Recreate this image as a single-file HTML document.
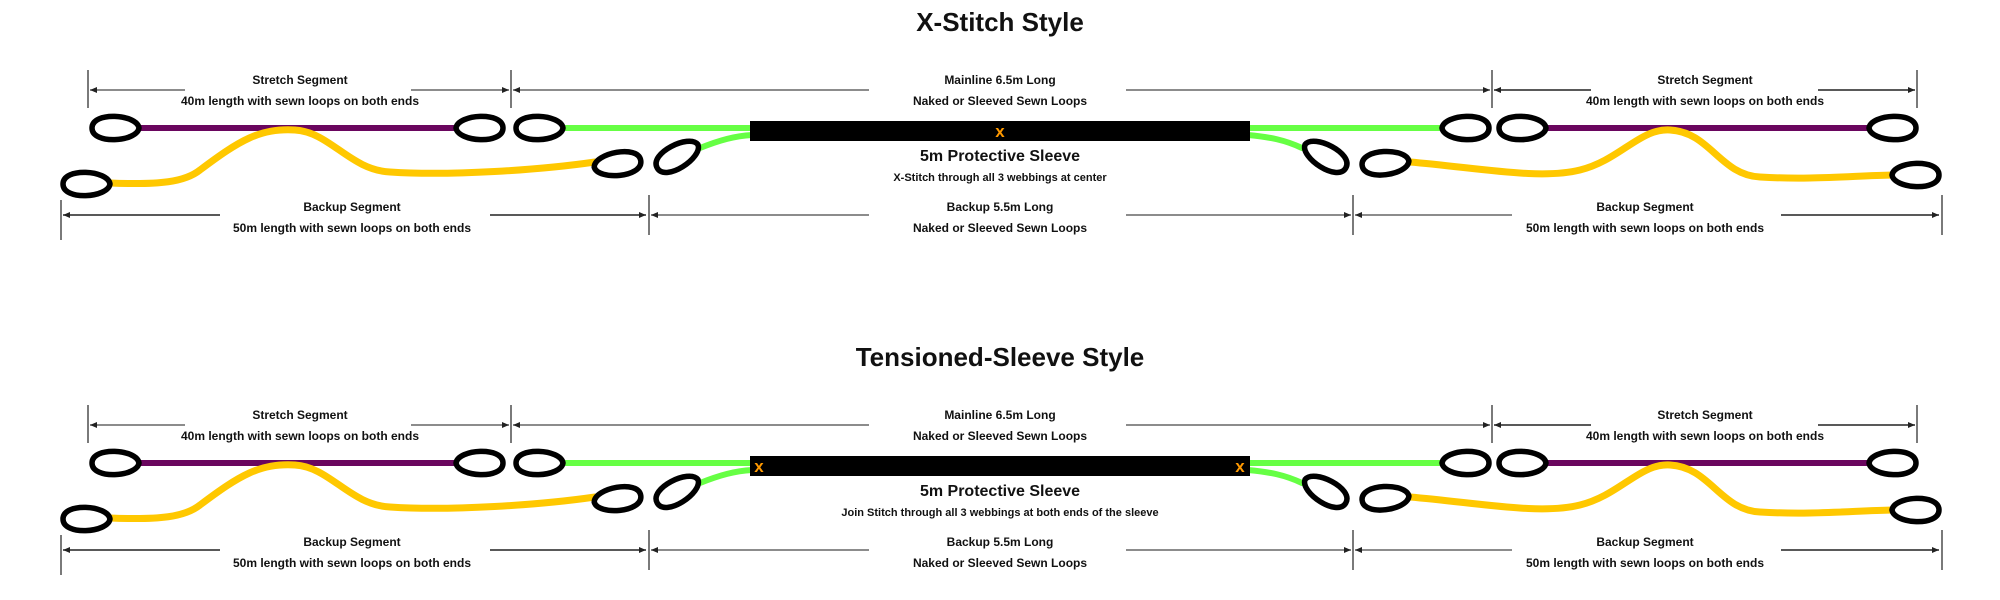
<!DOCTYPE html>
<html><head><meta charset="utf-8"><style>
html,body{margin:0;padding:0;background:#fff;}
svg{display:block;}
text{font-family:"Liberation Sans",sans-serif;font-weight:bold;}
</style></head><body>
<svg width="2000" height="600" viewBox="0 0 2000 600" xmlns="http://www.w3.org/2000/svg">
<defs>
<marker id="ah" markerWidth="8" markerHeight="8" refX="7" refY="4" orient="auto-start-reverse" markerUnits="userSpaceOnUse">
<path d="M0,1 L7,4 L0,7 Z" fill="#222"/></marker>
<path id="lp" d="M23,0 C21,-14 -24,-17 -24,0 C-24,17 21,14 23,0 Z" fill="#fff" stroke="#000" stroke-width="5.5" stroke-linejoin="round"/>
<g id="base">
 <g stroke="#333" stroke-width="1.3">
  <line x1="88" y1="70" x2="88" y2="108"/><line x1="511" y1="70" x2="511" y2="108"/>
  <line x1="1492" y1="70" x2="1492" y2="108"/><line x1="1917" y1="70" x2="1917" y2="108"/>
  <line x1="61" y1="200" x2="61" y2="240"/><line x1="649" y1="195" x2="649" y2="235"/>
  <line x1="1353" y1="195" x2="1353" y2="235"/><line x1="1942" y1="195" x2="1942" y2="235"/>
 </g>
 <g stroke="#666" stroke-width="1.6">
  <line x1="90" y1="90" x2="185" y2="90" marker-start="url(#ah)"/>
  <line x1="411" y1="90" x2="509" y2="90" marker-end="url(#ah)"/>
  <line x1="513" y1="90" x2="869" y2="90" marker-start="url(#ah)"/>
  <line x1="1126" y1="90" x2="1490" y2="90" marker-end="url(#ah)"/>
  <line x1="651" y1="215" x2="869" y2="215" marker-start="url(#ah)"/>
  <line x1="1126" y1="215" x2="1351" y2="215" marker-end="url(#ah)"/>
  <line x1="1355" y1="215" x2="1512" y2="215" marker-start="url(#ah)"/>
 </g>
 <g stroke="#222" stroke-width="1.6">
  <line x1="1494" y1="90" x2="1591" y2="90" marker-start="url(#ah)"/>
  <line x1="1818" y1="90" x2="1915" y2="90" marker-end="url(#ah)"/>
  <line x1="63" y1="215" x2="220" y2="215" marker-start="url(#ah)"/>
  <line x1="490" y1="215" x2="646" y2="215" marker-end="url(#ah)"/>
  <line x1="1781" y1="215" x2="1939" y2="215" marker-end="url(#ah)"/>
 </g>
 <g fill="none" stroke-linecap="round">
  <line x1="140" y1="128" x2="456" y2="128" stroke="#6a065e" stroke-width="6"/>
  <line x1="1546" y1="128" x2="1868" y2="128" stroke="#6a065e" stroke-width="6"/>
  <line x1="565" y1="128" x2="752" y2="128" stroke="#66ff44" stroke-width="6"/>
  <line x1="1248" y1="128" x2="1443" y2="128" stroke="#66ff44" stroke-width="6"/>
  <path d="M752,135 C735,136 720,140 700,148" stroke="#66ff44" stroke-width="6"/>
  <path d="M1248,135 C1270,137 1285,140 1302,148" stroke="#66ff44" stroke-width="6"/>
  <path d="M110,183 C160,185 185,182 200,170 C240,140 260,128 295,130 C330,132 350,170 390,172 C450,176 540,170 595,162" stroke="#ffc800" stroke-width="7"/>
  <path d="M1410,162 C1480,168 1540,180 1580,170 C1620,160 1640,128 1670,130 C1710,132 1720,175 1760,177 C1810,180 1850,176 1892,175" stroke="#ffc800" stroke-width="7"/>
 </g>
 <rect x="750" y="121" width="500" height="20" fill="#000"/>
 <use href="#lp" transform="translate(116,128)"/>
 <use href="#lp" transform="translate(479,128) scale(-1,1)"/>
 <use href="#lp" transform="translate(540,128)"/>
 <use href="#lp" transform="translate(678,156) rotate(-30)"/>
 <use href="#lp" transform="translate(617,164) scale(-1,1) rotate(8)"/>
 <use href="#lp" transform="translate(87,184)"/>
 <use href="#lp" transform="translate(1465,128) scale(-1,1)"/>
 <use href="#lp" transform="translate(1523,128)"/>
 <use href="#lp" transform="translate(1892,128) scale(-1,1)"/>
 <use href="#lp" transform="translate(1325,156) scale(-1,1) rotate(-30)"/>
 <use href="#lp" transform="translate(1386,163) rotate(-5)"/>
 <use href="#lp" transform="translate(1915,175) scale(-1,1)"/>
</g>
</defs>

<use href="#base"/>
<use href="#base" y="335"/>

<g text-anchor="middle" fill="#111">
 <text x="1000" y="31" font-size="26">X-Stitch Style</text>
 <text x="1000" y="366" font-size="26">Tensioned-Sleeve Style</text>
 <g font-size="12">
  <text x="300" y="84">Stretch Segment</text><text x="300" y="105">40m length with sewn loops on both ends</text>
  <text x="1000" y="84">Mainline 6.5m Long</text><text x="1000" y="105">Naked or Sleeved Sewn Loops</text>
  <text x="1705" y="84">Stretch Segment</text><text x="1705" y="105">40m length with sewn loops on both ends</text>
  <text x="352" y="211">Backup Segment</text><text x="352" y="232">50m length with sewn loops on both ends</text>
  <text x="1000" y="211">Backup 5.5m Long</text><text x="1000" y="232">Naked or Sleeved Sewn Loops</text>
  <text x="1645" y="211">Backup Segment</text><text x="1645" y="232">50m length with sewn loops on both ends</text>

  <text x="300" y="419">Stretch Segment</text><text x="300" y="440">40m length with sewn loops on both ends</text>
  <text x="1000" y="419">Mainline 6.5m Long</text><text x="1000" y="440">Naked or Sleeved Sewn Loops</text>
  <text x="1705" y="419">Stretch Segment</text><text x="1705" y="440">40m length with sewn loops on both ends</text>
  <text x="352" y="546">Backup Segment</text><text x="352" y="567">50m length with sewn loops on both ends</text>
  <text x="1000" y="546">Backup 5.5m Long</text><text x="1000" y="567">Naked or Sleeved Sewn Loops</text>
  <text x="1645" y="546">Backup Segment</text><text x="1645" y="567">50m length with sewn loops on both ends</text>
 </g>
 <text x="1000" y="161" font-size="16">5m Protective Sleeve</text>
 <text x="1000" y="181" font-size="11">X-Stitch through all 3 webbings at center</text>
 <text x="1000" y="496" font-size="16">5m Protective Sleeve</text>
 <text x="1000" y="516" font-size="11">Join Stitch through all 3 webbings at both ends of the sleeve</text>
 <text x="1000" y="137" font-size="17" style="fill:#ff9900">x</text>
 <text x="759" y="472" font-size="17" style="fill:#ff9900">x</text>
 <text x="1240" y="472" font-size="17" style="fill:#ff9900">x</text>
</g>
</svg>
</body></html>
